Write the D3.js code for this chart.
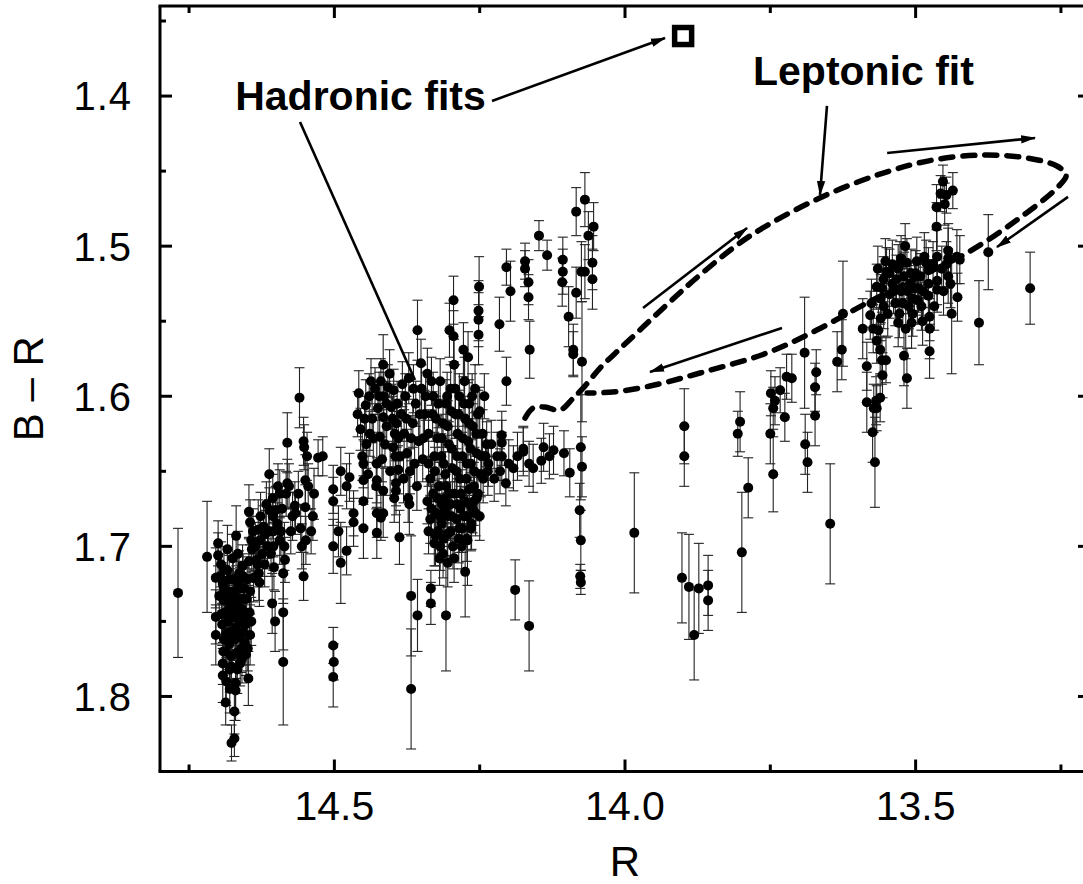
<!DOCTYPE html>
<html><head><meta charset="utf-8">
<script src="https://cdn.jsdelivr.net/npm/d3@7"></script>
<style>body{margin:0;background:#fff}svg{display:block}</style>
</head><body>
<svg id="chart" width="1083" height="884"></svg>
<script>
// ---------- axes ----------
const xDomain = [14.8, 13.2];
const yDomain = [1.34, 1.85];
const xTickValues = [14.5, 14.0, 13.5];
const xMinorTicks = [14.75, 14.25, 13.75, 13.25];
const yTickValues = [1.4, 1.5, 1.6, 1.7, 1.8];
const yMinorTicks = [1.35, 1.45, 1.55, 1.65, 1.75, 1.85];
const xTitle = "R";
const yTitle = "B \u2013 R";

// ---------- data: [R, B-R, error] ----------
const farLeft = [
 [14.769,1.731,0.043],[14.719,1.707,0.037],[14.704,1.721,0.02],[14.700,1.698,0.015],[14.700,1.706,0.015],
 [14.704,1.747,0.018],[14.704,1.759,0.02]
];
const leftCluster = [
 [14.695,1.712,0.015],[14.692,1.725,0.014],[14.690,1.736,0.016],[14.688,1.744,0.015],[14.693,1.752,0.014],
 [14.690,1.762,0.016],[14.687,1.770,0.015],[14.692,1.778,0.014],[14.692,1.786,0.018],[14.687,1.804,0.015],
 [14.684,1.716,0.015],[14.682,1.730,0.014],[14.680,1.741,0.016],[14.683,1.750,0.014],[14.679,1.757,0.015],
 [14.681,1.765,0.017],[14.678,1.773,0.016],[14.680,1.782,0.015],[14.677,1.831,0.012],[14.672,1.828,0.012],
 [14.675,1.708,0.016],[14.674,1.722,0.015],[14.672,1.733,0.014],[14.673,1.745,0.016],[14.670,1.754,0.015],
 [14.671,1.762,0.014],[14.669,1.771,0.017],[14.670,1.791,0.02],[14.670,1.796,0.02],[14.669,1.693,0.02],
 [14.666,1.705,0.015],[14.664,1.718,0.015],[14.662,1.728,0.014],[14.665,1.740,0.016],[14.661,1.750,0.015],
 [14.663,1.760,0.015],[14.660,1.768,0.016],[14.662,1.778,0.015],[14.658,1.713,0.014],[14.656,1.735,0.015],
 [14.655,1.746,0.016],[14.657,1.757,0.014],[14.654,1.764,0.015],[14.652,1.772,0.014],[14.648,1.788,0.018],
 [14.645,1.759,0.02],[14.650,1.722,0.015],[14.646,1.744,0.016],[14.698,1.733,0.015],[14.686,1.758,0.014],
 [14.676,1.738,0.015],[14.666,1.748,0.015],[14.659,1.742,0.015],[14.684,1.702,0.016],
 [14.697,1.720,0.015],[14.694,1.745,0.014],[14.691,1.770,0.016],[14.689,1.728,0.015],[14.686,1.790,0.016],
 [14.685,1.735,0.014],[14.683,1.762,0.015],[14.681,1.722,0.016],[14.679,1.748,0.015],[14.677,1.780,0.016],
 [14.676,1.760,0.014],[14.674,1.730,0.015],[14.671,1.742,0.016],[14.668,1.760,0.015],[14.667,1.782,0.016],
 [14.665,1.725,0.015],[14.663,1.735,0.014],[14.661,1.758,0.015],[14.659,1.775,0.016],[14.657,1.720,0.015],
 [14.655,1.728,0.014],[14.653,1.752,0.015],[14.651,1.735,0.016],[14.649,1.768,0.015],[14.647,1.710,0.016],
 [14.645,1.730,0.015],[14.643,1.750,0.016],[14.690,1.715,0.015],[14.680,1.795,0.016],[14.672,1.810,0.015]
];
const leftRise = [
 [14.647,1.677,0.018],[14.645,1.684,0.015],[14.643,1.696,0.016],[14.642,1.702,0.015],[14.639,1.721,0.016],
 [14.634,1.709,0.015],[14.631,1.689,0.02],[14.628,1.696,0.016],[14.630,1.718,0.018],[14.629,1.724,0.016],
 [14.622,1.687,0.014],[14.612,1.652,0.017],[14.612,1.676,0.015],[14.606,1.668,0.016],[14.606,1.680,0.015],
 [14.605,1.690,0.017],[14.605,1.700,0.016],[14.604,1.714,0.015],[14.607,1.738,0.02],[14.602,1.750,0.02],
 [14.594,1.665,0.016],[14.594,1.696,0.016],[14.588,1.718,0.02],[14.588,1.744,0.025],[14.588,1.777,0.042],
 [14.585,1.709,0.015],[14.581,1.631,0.02],[14.581,1.658,0.016],[14.583,1.665,0.015],[14.568,1.673,0.016],
 [14.567,1.678,0.014],[14.553,1.630,0.016],[14.552,1.634,0.015],[14.547,1.640,0.016],[14.550,1.656,0.017],
 [14.550,1.674,0.015],[14.549,1.696,0.016],[14.556,1.700,0.015],[14.553,1.720,0.016],[14.535,1.665,0.017],
 [14.528,1.641,0.012],[14.520,1.640,0.013],[14.560,1.601,0.02],[14.615,1.700,0.015],[14.620,1.712,0.015],
 [14.598,1.685,0.014],[14.575,1.690,0.015],[14.540,1.690,0.015],
 [14.640,1.690,0.015],[14.636,1.700,0.016],[14.632,1.712,0.015],[14.627,1.680,0.016],[14.624,1.705,0.015],
 [14.619,1.692,0.016],[14.617,1.672,0.015],[14.613,1.690,0.016],[14.609,1.705,0.015],[14.601,1.676,0.016],
 [14.597,1.660,0.015],[14.592,1.690,0.016],[14.590,1.675,0.015],[14.586,1.700,0.016],[14.578,1.660,0.015],
 [14.572,1.680,0.016],[14.562,1.665,0.015],[14.558,1.688,0.016],[14.545,1.660,0.015],[14.537,1.680,0.016]
];
const midLeft = [
 [14.502,1.662,0.016],[14.502,1.670,0.016],[14.502,1.700,0.018],[14.489,1.650,0.016],[14.493,1.690,0.017],
 [14.489,1.711,0.027],[14.479,1.660,0.015],[14.474,1.654,0.016],[14.479,1.703,0.016],[14.467,1.678,0.015],
 [14.467,1.684,0.016],[14.502,1.766,0.012],[14.501,1.777,0.012],[14.502,1.787,0.02],[14.446,1.606,0.017],
 [14.450,1.645,0.016],[14.450,1.656,0.016],[14.450,1.670,0.017],[14.450,1.688,0.02],[14.439,1.625,0.015],
 [14.427,1.645,0.016],[14.427,1.656,0.015],[14.427,1.678,0.016],[14.427,1.691,0.017],[14.422,1.627,0.015],
 [14.416,1.614,0.016],[14.410,1.605,0.015],[14.399,1.634,0.016],[14.396,1.625,0.015],[14.393,1.618,0.016],
 [14.416,1.663,0.016],[14.416,1.678,0.016],[14.420,1.681,0.015],[14.390,1.628,0.015],[14.390,1.649,0.016],
 [14.394,1.658,0.015],[14.394,1.663,0.016],[14.388,1.694,0.018],[14.371,1.672,0.02],[14.368,1.733,0.04],
 [14.368,1.795,0.04],[14.357,1.746,0.024],[14.334,1.728,0.012],[14.334,1.738,0.014],[14.326,1.693,0.02],
 [14.319,1.708,0.018],[14.308,1.746,0.037],[14.305,1.711,0.016],[14.310,1.676,0.016],[14.315,1.672,0.015],
 [14.310,1.668,0.016],[14.275,1.717,0.03],[14.271,1.696,0.03],[14.264,1.685,0.017],[14.416,1.579,0.02]
];
const centralCluster = [
 [14.460,1.612,0.015],[14.455,1.622,0.014],[14.445,1.632,0.016],[14.440,1.600,0.015],[14.435,1.615,0.016],
 [14.430,1.595,0.014],[14.425,1.608,0.016],[14.420,1.590,0.015],[14.415,1.600,0.016],[14.410,1.620,0.015],
 [14.405,1.585,0.016],[14.402,1.607,0.015],[14.398,1.596,0.014],[14.395,1.640,0.016],[14.385,1.612,0.015],
 [14.380,1.625,0.016],[14.378,1.600,0.015],[14.375,1.638,0.016],[14.372,1.588,0.017],[14.370,1.650,0.015],
 [14.365,1.618,0.016],[14.360,1.605,0.015],[14.357,1.556,0.02],[14.355,1.630,0.016],[14.350,1.595,0.016],
 [14.348,1.642,0.015],[14.345,1.612,0.016],[14.340,1.585,0.017],[14.338,1.625,0.016],[14.335,1.655,0.015],
 [14.330,1.600,0.016],[14.328,1.640,0.016],[14.325,1.615,0.015],[14.320,1.660,0.016],[14.318,1.590,0.015],
 [14.315,1.628,0.016],[14.312,1.645,0.015],[14.308,1.605,0.016],[14.305,1.620,0.017],[14.302,1.556,0.018],
 [14.300,1.595,0.016],[14.298,1.635,0.015],[14.295,1.536,0.016],[14.295,1.560,0.017],[14.294,1.579,0.017],
 [14.292,1.612,0.016],[14.290,1.650,0.015],[14.288,1.625,0.016],[14.285,1.600,0.015],[14.282,1.665,0.016],
 [14.280,1.640,0.016],[14.278,1.569,0.018],[14.276,1.590,0.016],[14.275,1.615,0.015],[14.273,1.655,0.016],
 [14.270,1.574,0.017],[14.270,1.630,0.015],[14.268,1.605,0.016],[14.265,1.645,0.016],[14.262,1.620,0.015],
 [14.260,1.670,0.016],[14.258,1.595,0.016],[14.255,1.638,0.015],[14.252,1.543,0.02],[14.252,1.549,0.018],
 [14.252,1.559,0.02],[14.251,1.527,0.02],[14.250,1.610,0.016],[14.248,1.652,0.015],[14.245,1.625,0.016],
 [14.242,1.600,0.015],[14.240,1.640,0.016],
 [14.458,1.598,0.015],[14.452,1.640,0.016],[14.448,1.615,0.015],[14.442,1.652,0.016],[14.437,1.590,0.015],
 [14.433,1.628,0.016],[14.428,1.660,0.015],[14.423,1.600,0.016],[14.418,1.642,0.015],[14.413,1.632,0.016],
 [14.408,1.594,0.015],[14.404,1.650,0.016],[14.400,1.615,0.015],[14.397,1.668,0.016],[14.392,1.605,0.015],
 [14.387,1.640,0.016],[14.383,1.592,0.015],[14.381,1.655,0.016],[14.376,1.615,0.015],[14.373,1.668,0.016],
 [14.368,1.628,0.015],[14.364,1.595,0.016],[14.362,1.645,0.015],[14.358,1.660,0.016],[14.353,1.612,0.015],
 [14.351,1.578,0.016],[14.347,1.628,0.015],[14.343,1.600,0.016],[14.338,1.645,0.015],[14.333,1.590,0.016],
 [14.331,1.612,0.015],[14.327,1.650,0.016],[14.323,1.628,0.015],[14.321,1.605,0.016],[14.316,1.640,0.015],
 [14.313,1.618,0.016],[14.309,1.652,0.015],[14.306,1.600,0.016],[14.303,1.632,0.015],[14.299,1.610,0.016],
 [14.297,1.648,0.015],[14.292,1.595,0.016],[14.289,1.640,0.015],[14.286,1.612,0.016],[14.284,1.655,0.015],
 [14.279,1.628,0.016],[14.277,1.605,0.015],[14.272,1.645,0.016],[14.268,1.618,0.015],[14.266,1.635,0.016],
 [14.263,1.600,0.015],[14.259,1.650,0.016],[14.256,1.625,0.015],[14.253,1.612,0.016],[14.247,1.640,0.015],
 [14.244,1.655,0.016],[14.238,1.632,0.015],[14.236,1.650,0.016],
 [14.340,1.670,0.015],[14.335,1.682,0.016],[14.330,1.665,0.015],[14.325,1.678,0.016],[14.322,1.690,0.015],
 [14.318,1.700,0.016],[14.315,1.685,0.015],[14.312,1.695,0.016],[14.308,1.660,0.015],[14.305,1.680,0.016],
 [14.300,1.672,0.015],[14.300,1.690,0.016],[14.296,1.700,0.015],[14.293,1.665,0.016],[14.290,1.682,0.015],
 [14.286,1.695,0.016],[14.283,1.675,0.015],[14.280,1.688,0.016],[14.276,1.670,0.015],[14.272,1.680,0.016],
 [14.268,1.662,0.015],[14.262,1.675,0.016],[14.255,1.668,0.015],[14.250,1.680,0.016],
 [14.338,1.690,0.015],[14.333,1.675,0.016],[14.328,1.698,0.015],[14.323,1.668,0.016],[14.318,1.680,0.015],
 [14.313,1.705,0.016],[14.306,1.692,0.015],[14.302,1.665,0.016],[14.298,1.680,0.015],[14.294,1.708,0.016],
 [14.289,1.672,0.015],[14.285,1.688,0.016],[14.281,1.700,0.015],[14.277,1.680,0.016],[14.272,1.695,0.015],
 [14.268,1.672,0.016],[14.265,1.688,0.015],[14.260,1.660,0.016],[14.257,1.678,0.015],[14.253,1.665,0.016]
];
const tail = [
 [14.235,1.645,0.015],[14.230,1.632,0.016],[14.225,1.655,0.015],[14.220,1.640,0.016],[14.215,1.650,0.015],
 [14.212,1.626,0.016],[14.212,1.631,0.015],[14.212,1.640,0.016],[14.205,1.658,0.015],[14.200,1.645,0.016],
 [14.192,1.648,0.015],[14.185,1.640,0.016],[14.175,1.635,0.015],[14.175,1.637,0.016],[14.165,1.645,0.015],
 [14.158,1.648,0.016],[14.144,1.643,0.015],[14.140,1.634,0.016],[14.130,1.640,0.015],[14.123,1.636,0.016],
 [14.105,1.638,0.015],[14.095,1.651,0.016],[14.076,1.634,0.035],[14.074,1.647,0.02],
 [14.078,1.676,0.018],[14.076,1.696,0.02],[14.077,1.720,0.008],[14.076,1.724,0.008],
 [14.189,1.729,0.02],[14.165,1.753,0.03]
];
const upperMid = [
 [14.069,1.469,0.018],[14.084,1.477,0.016],[14.063,1.493,0.016],[14.054,1.487,0.016],[14.056,1.511,0.018],
 [14.056,1.522,0.02],[14.075,1.517,0.02],[14.069,1.517,0.018],[14.084,1.531,0.017],[14.097,1.547,0.02],
 [14.089,1.569,0.017],[14.089,1.572,0.015],[14.074,1.577,0.04],
 [14.107,1.509,0.015],[14.107,1.517,0.015],[14.108,1.524,0.016],[14.134,1.506,0.01],[14.148,1.493,0.01],
 [14.172,1.510,0.012],[14.172,1.515,0.012],[14.166,1.524,0.015],[14.166,1.534,0.015],[14.164,1.569,0.019],
 [14.204,1.514,0.012],[14.197,1.530,0.02],[14.204,1.590,0.016],[14.216,1.552,0.018]
];
const rightLow = [
 [13.984,1.691,0.04],[13.902,1.721,0.03],[13.890,1.727,0.035],[13.873,1.728,0.03],[13.881,1.759,0.03],
 [13.857,1.726,0.02],[13.857,1.736,0.02],[13.898,1.620,0.025],[13.898,1.640,0.02],[13.799,1.704,0.04],
 [13.802,1.617,0.02],[13.806,1.625,0.015],[13.788,1.661,0.02],[13.745,1.652,0.025],[13.750,1.625,0.02],
 [13.749,1.598,0.015],[13.742,1.603,0.016],[13.733,1.596,0.015],[13.725,1.614,0.016],[13.745,1.608,0.014],
 [13.722,1.587,0.015],[13.713,1.588,0.016],[13.691,1.571,0.037],[13.671,1.584,0.015],[13.673,1.594,0.016],
 [13.673,1.613,0.02],[13.625,1.545,0.035],[13.635,1.577,0.02],[13.627,1.569,0.02],[13.584,1.604,0.02],
 [13.568,1.603,0.016],[13.567,1.608,0.015],[13.584,1.580,0.016],[13.557,1.586,0.015],[13.551,1.576,0.015],
 [13.561,1.569,0.017],[13.558,1.576,0.016],[13.567,1.563,0.015],[13.573,1.555,0.016],[13.564,1.556,0.015],
 [13.591,1.555,0.02],[13.576,1.538,0.016],[13.578,1.546,0.016],[13.560,1.548,0.015],[13.555,1.540,0.015],
 [13.690,1.632,0.02],[13.686,1.644,0.02],[13.647,1.685,0.04],[13.574,1.624,0.02],[13.572,1.608,0.016],
 [13.570,1.644,0.03],[13.561,1.601,0.016],[13.520,1.573,0.02],[13.515,1.588,0.02]
];
const rightCluster = [
 [13.453,1.457,0.011],[13.457,1.465,0.012],[13.447,1.466,0.012],[13.436,1.463,0.012],[13.450,1.472,0.014],
 [13.464,1.474,0.015],[13.464,1.487,0.016],[13.444,1.503,0.018],[13.444,1.508,0.02],[13.429,1.507,0.018],
 [13.424,1.509,0.016],[13.444,1.520,0.018],[13.428,1.534,0.016],[13.438,1.545,0.04],[13.463,1.507,0.018],
 [13.463,1.523,0.016],[13.463,1.529,0.015],[13.478,1.516,0.015],[13.478,1.525,0.016],[13.478,1.533,0.015],
 [13.476,1.547,0.016],[13.476,1.555,0.02],[13.476,1.570,0.018],[13.488,1.550,0.016],[13.507,1.551,0.017],
 [13.517,1.555,0.02],[13.530,1.551,0.016],[13.375,1.504,0.025],[13.303,1.528,0.024],[13.391,1.551,0.028],
 [13.550,1.517,0.016],[13.567,1.527,0.015],[13.485,1.507,0.016],[13.482,1.511,0.015],[13.515,1.511,0.016],
 [13.540,1.525,0.015],[13.530,1.515,0.016],[13.525,1.530,0.015],[13.520,1.520,0.016],[13.510,1.525,0.015],
 [13.505,1.535,0.016],[13.500,1.518,0.015],[13.495,1.528,0.016],[13.535,1.538,0.015],[13.545,1.532,0.016],
 [13.555,1.522,0.015],[13.560,1.535,0.016],[13.512,1.540,0.015],[13.498,1.510,0.016],[13.525,1.508,0.015],
 [13.540,1.512,0.016],[13.505,1.545,0.015],[13.490,1.540,0.016],[13.518,1.500,0.015],[13.528,1.545,0.016],
 [13.548,1.545,0.015],
 [13.565,1.515,0.015],[13.558,1.528,0.016],[13.552,1.510,0.015],[13.545,1.518,0.016],[13.538,1.530,0.015],
 [13.533,1.522,0.016],[13.527,1.512,0.015],[13.522,1.538,0.016],[13.514,1.530,0.015],[13.508,1.518,0.016],
 [13.502,1.528,0.015],[13.497,1.536,0.016],[13.492,1.520,0.015],[13.487,1.530,0.016],[13.470,1.512,0.015],
 [13.468,1.540,0.016],[13.455,1.515,0.015],[13.452,1.530,0.016],[13.447,1.512,0.015],[13.440,1.525,0.016]
];

// hadronic fit (open square)
const hadronicR = [13.90];
const hadronicBR = [1.36];

// leptonic fit curve
const leptonicR = [14.172,14.158,14.138,14.112,14.089,14.069,14.043,14.009,13.969,13.923,13.871,13.785,13.665,13.556,13.470,13.384,13.308,13.257,13.241,13.257,13.326,13.412,13.498,13.584,13.670,13.756,13.871,13.957,14.021,14.065];
const leptonicBR = [1.6145,1.6078,1.6072,1.6092,1.6012,1.5932,1.5812,1.5685,1.5539,1.5372,1.5192,1.4932,1.4679,1.4513,1.4426,1.4393,1.4413,1.4466,1.4526,1.4613,1.4826,1.5046,1.5212,1.5379,1.5559,1.5712,1.5845,1.5932,1.5972,1.5978];

// annotations: [R1, BR1, R2, BR2, arrowhead]
const annotationLines = [
 [14.2288,1.4033,13.9312,1.3613,true],
 [14.5591,1.4173,14.3613,1.5892,false],
 [13.6525,1.4066,13.6645,1.4659,true],
 [13.969,1.5412,13.790,1.4879,true],
 [13.549,1.4379,13.2946,1.4279,true],
 [13.2378,1.4672,13.360,1.5006,true],
 [13.7299,1.5545,13.957,1.5838,true]
];
const annotationTexts = [
 {text:"Hadronic fits", R:14.2395, BR:1.409, anchor:"end"},
 {text:"Leptonic fit", R:13.7798, BR:1.3926, anchor:"start"}
];

// ---------- drawing ----------
const svg = d3.select("#chart");
const W = 1083, H = 884;
const m = {left:160, top:6, right:1090, bottom:771.5};
const x = d3.scaleLinear().domain(xDomain).range([m.left, m.right]);
const y = d3.scaleLinear().domain(yDomain).range([m.top, m.bottom]);
const font = "'Liberation Sans', Arial, Helvetica, sans-serif";

svg.append("rect").attr("width",W).attr("height",H).attr("fill","#fff");

const defs = svg.append("defs");
defs.append("marker").attr("id","ah").attr("markerUnits","userSpaceOnUse")
  .attr("markerWidth",15).attr("markerHeight",10).attr("refX",14).attr("refY",5)
  .attr("orient","auto")
  .append("path").attr("d","M0,0.8 L15,5 L0,9.2 Z").attr("fill","#000");

const allPoints = [].concat(farLeft,leftCluster,leftRise,midLeft,centralCluster,tail,upperMid,rightLow,rightCluster);

// error bars
const eb = svg.append("g").attr("stroke","#222").attr("stroke-width",1.1).attr("fill","none");
allPoints.forEach(p=>{
  const cx = x(p[0]), y1 = y(p[1]-p[2]), y2 = y(p[1]+p[2]);
  eb.append("line").attr("x1",cx).attr("x2",cx).attr("y1",y1).attr("y2",y2);
  eb.append("line").attr("x1",cx-5).attr("x2",cx+5).attr("y1",y1).attr("y2",y1);
  eb.append("line").attr("x1",cx-5).attr("x2",cx+5).attr("y1",y2).attr("y2",y2);
});
// points
svg.append("g").selectAll("circle").data(allPoints).join("circle")
  .attr("cx",d=>x(d[0])).attr("cy",d=>y(d[1])).attr("r",5).attr("fill","#000");

// leptonic dashed curve
const lep = leptonicR.map((r,i)=>[r,leptonicBR[i]]);
svg.append("path").datum(lep)
  .attr("d", d3.line().x(d=>x(d[0])).y(d=>y(d[1])).curve(d3.curveCatmullRom.alpha(0.5)))
  .attr("fill","none").attr("stroke","#000").attr("stroke-width",5.5)
  .attr("stroke-dasharray","12,10").attr("stroke-linecap","round");

// hadronic square
hadronicR.forEach((r,i)=>{
  svg.append("rect").attr("x",x(r)-8.5).attr("y",y(hadronicBR[i])-8.5)
    .attr("width",17).attr("height",17).attr("fill","#fff").attr("stroke","#000").attr("stroke-width",5.5);
});

// annotation lines
annotationLines.forEach(a=>{
  const l = svg.append("line").attr("x1",x(a[0])).attr("y1",y(a[1])).attr("x2",x(a[2])).attr("y2",y(a[3]))
    .attr("stroke","#000").attr("stroke-width",2.6);
  if(a[4]) l.attr("marker-end","url(#ah)");
});
annotationTexts.forEach(t=>{
  svg.append("text").attr("x",x(t.R)).attr("y",y(t.BR)).attr("text-anchor",t.anchor)
    .attr("font-family",font).attr("font-weight","bold").attr("font-size",41).text(t.text);
});

// frame & ticks
const ax = svg.append("g").attr("stroke","#000");
ax.append("line").attr("x1",m.left).attr("x2",m.left).attr("y1",m.top).attr("y2",m.bottom).attr("stroke-width",3);
ax.append("line").attr("x1",m.right).attr("x2",m.right).attr("y1",m.top).attr("y2",m.bottom).attr("stroke-width",3);
ax.append("line").attr("x1",m.left-1.5).attr("x2",m.right).attr("y1",m.top).attr("y2",m.top).attr("stroke-width",3);
ax.append("line").attr("x1",m.left-1.5).attr("x2",m.right).attr("y1",m.bottom).attr("y2",m.bottom).attr("stroke-width",3);

function xt(v,len){
  ax.append("line").attr("x1",x(v)).attr("x2",x(v)).attr("y1",m.bottom).attr("y2",m.bottom-len).attr("stroke-width",3);
  ax.append("line").attr("x1",x(v)).attr("x2",x(v)).attr("y1",m.top).attr("y2",m.top+len).attr("stroke-width",3);
}
function yt(v,len){
  ax.append("line").attr("x1",m.left).attr("x2",m.left+len).attr("y1",y(v)).attr("y2",y(v)).attr("stroke-width",3);
  ax.append("line").attr("x1",m.right).attr("x2",m.right-len).attr("y1",y(v)).attr("y2",y(v)).attr("stroke-width",3);
}
xTickValues.forEach(v=>xt(v,12));
xMinorTicks.forEach(v=>xt(v,7));
yTickValues.forEach(v=>yt(v,12));
yMinorTicks.forEach(v=>yt(v,6));

const fmt = d3.format(".1f");
svg.append("g").selectAll("text").data(xTickValues).join("text")
  .attr("x",d=>x(d)).attr("y",820).attr("text-anchor","middle")
  .attr("font-family",font).attr("font-size",41).text(d=>fmt(d));
svg.append("g").selectAll("text").data(yTickValues).join("text")
  .attr("x",132).attr("y",d=>y(d)).attr("dy","0.36em").attr("text-anchor","end")
  .attr("font-family",font).attr("font-size",40).attr("letter-spacing","1px").text(d=>fmt(d));

svg.append("text").attr("x",(m.left+m.right)/2).attr("y",876).attr("text-anchor","middle")
  .attr("font-family",font).attr("font-size",42).text(xTitle);
svg.append("text").attr("transform",`translate(43,${(m.top+m.bottom)/2}) rotate(-90)`)
  .attr("text-anchor","middle").attr("font-family",font).attr("font-size",42).text(yTitle);
</script>
</body></html>
